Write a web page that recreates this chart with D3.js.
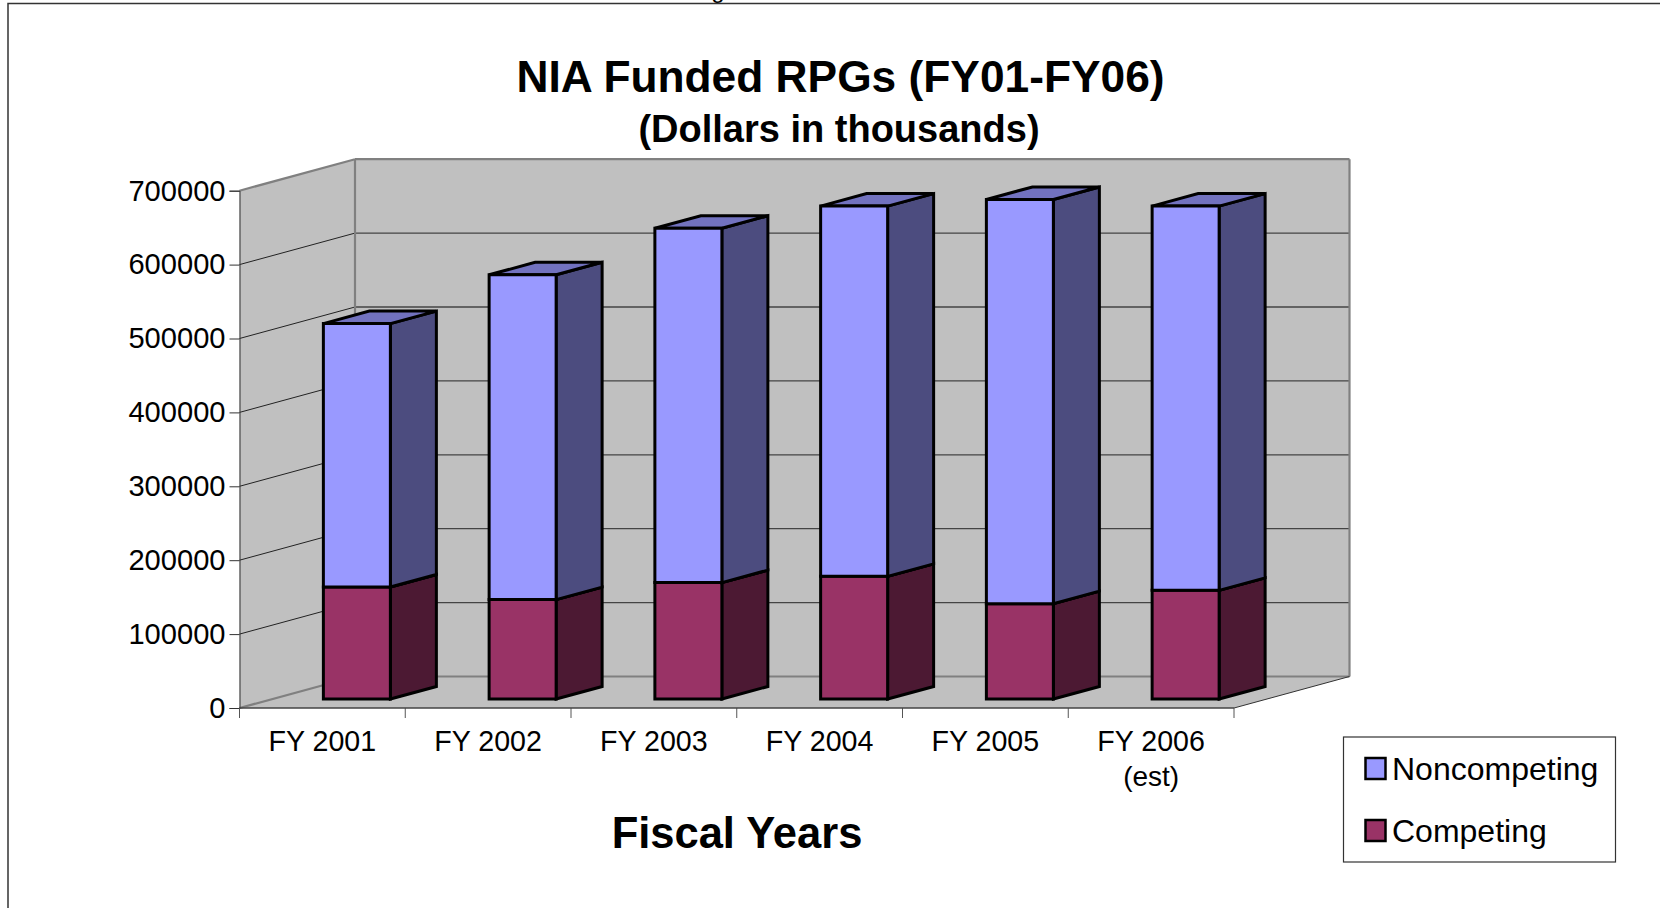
<!DOCTYPE html>
<html><head><meta charset="utf-8">
<script src="https://cdn.jsdelivr.net/npm/d3@7/dist/d3.min.js"></script>
<style>html,body{margin:0;padding:0;background:#fff;overflow:hidden}svg{display:block}text{font-family:"Liberation Sans",Arial,sans-serif;fill:#000}</style>
</head><body><svg id="c" width="1660" height="908"></svg>
<script>
const categories = ["FY 2001","FY 2002","FY 2003","FY 2004","FY 2005","FY 2006"];
const categorySub = ["","","","","","(est)"];
const competing = [151500,134500,157500,166000,129000,147000];
const noncompeting = [356500,439500,479500,501000,547000,520000];
const yTicks = [0,100000,200000,300000,400000,500000,600000,700000];
const seriesNames = ["Noncompeting","Competing"];

const svg = d3.select("#c");
const wallDx = 115.5, wallDy = -31.5;      // depth of the chart box
const barDx = 46, barDy = -12.5;           // depth of a bar
const barInsetDx = 34.5, barInsetDy = -9;  // bar offset from front edge
const x = d3.scaleBand().domain(categories).range([239.5,1234]);
const y = d3.scaleLinear().domain([0,700000]).range([708,190.7]);
const barW = 67;
const poly = (pts,fill,stroke,sw) => svg.append("path")
  .attr("d","M"+pts.map(p=>p.join(",")).join("L")+"Z").attr("fill",fill)
  .attr("stroke",stroke).attr("stroke-width",sw).attr("stroke-linejoin","miter");
const line = (x1,y1,x2,y2,stroke,sw) => svg.append("line").attr("x1",x1).attr("y1",y1).attr("x2",x2).attr("y2",y2).attr("stroke",stroke).attr("stroke-width",sw);

// clipped descender of the text above + page frame
svg.append("text").attr("x",718).attr("y",-2.5).attr("text-anchor","middle").attr("font-size",24).text("g");
svg.append("path").attr("d","M8,908V3.5H1660").attr("fill","none").attr("stroke","#333").attr("stroke-width",1.5);

// chart box
const [xl,xr] = x.range(), y0=y(0), yT=y(700000);
const G="#c0c0c0", W="#808080";
poly([[xl,y0],[xl+wallDx,y0+wallDy],[xr+wallDx,y0+wallDy],[xr,y0]],G,"none",0);
poly([[xl,y0],[xl,yT],[xl+wallDx,yT+wallDy],[xl+wallDx,y0+wallDy]],G,"none",0);
poly([[xl+wallDx,yT+wallDy],[xr+wallDx,yT+wallDy],[xr+wallDx,y0+wallDy],[xl+wallDx,y0+wallDy]],G,"none",0);
yTicks.slice(1,-1).forEach(v=>{
  line(xl,y(v),xl+wallDx,y(v)+wallDy,"#222",1);
  line(xl+wallDx,y(v)+wallDy,xr+wallDx,y(v)+wallDy,"#444",1.3);
});
line(xl,yT,xl+wallDx,yT+wallDy,W,2.2);
line(xl+wallDx,yT+wallDy,xr+wallDx,yT+wallDy,W,2.2);
line(xl+wallDx,yT+wallDy,xl+wallDx,y0+wallDy,W,2.2);
line(xr+wallDx,yT+wallDy,xr+wallDx,y0+wallDy,W,2.2);
line(xl,y0,xl+wallDx,y0+wallDy,W,2.2);
line(xl+wallDx,y0+wallDy,xr+wallDx,y0+wallDy,W,2.2);
line(xr,y0,xr+wallDx,y0+wallDy,"#333",1);

// axes
const yAxis = d3.axisLeft(y).tickValues(yTicks).tickFormat(d3.format("d")).tickSize(10).tickPadding(4);
const gy = svg.append("g").attr("transform",`translate(${xl},0)`).call(yAxis);
gy.selectAll("text").attr("font-size",29.1);
gy.select(".domain").attr("stroke","#333").attr("stroke-width",1);
gy.selectAll("line").attr("stroke","#333");
const xTickPos = categories.map(c=>x(c)).concat([xr]);
svg.append("g").selectAll("line").data(xTickPos).join("line")
  .attr("x1",d=>d).attr("x2",d=>d).attr("y1",y0).attr("y2",y0+10).attr("stroke","#555").attr("stroke-width",1);
line(xl,y0,xr,y0,"#444",1.4);
svg.append("g").selectAll("text").data(categories).join("text")
  .attr("x",d=>x(d)+x.bandwidth()/2).attr("y",751).attr("text-anchor","middle").attr("font-size",28.6).text(d=>d);
svg.append("g").selectAll("text").data(categorySub).join("text")
  .attr("x",(d,i)=>x(categories[i])+x.bandwidth()/2).attr("y",786).attr("text-anchor","middle").attr("font-size",28).text(d=>d);

// bars
const C = {non:["#9999ff","#7272bf","#4c4c7f"],com:["#993366","#732650","#4c1933"]};
function box(cx,v0,v1,col){
  const l=cx-barW/2+barInsetDx, r=l+barW;
  const yb=y(v0)+barInsetDy, yt=y(v1)+barInsetDy;
  poly([[r,yb],[r+barDx,yb+barDy],[r+barDx,yt+barDy],[r,yt]],col[2],"#000",3);
  poly([[l,yt],[r,yt],[r+barDx,yt+barDy],[l+barDx,yt+barDy]],col[1],"#000",3);
  poly([[l,yb],[r,yb],[r,yt],[l,yt]],col[0],"#000",3);
}
categories.forEach((c,i)=>{
  const cx=x(c)+x.bandwidth()/2;
  box(cx,0,competing[i],C.com);
  box(cx,competing[i],competing[i]+noncompeting[i],C.non);
});

// titles
svg.append("text").attr("x",840.5).attr("y",92).attr("text-anchor","middle").attr("font-size",44.3).attr("font-weight","bold").text("NIA Funded RPGs (FY01-FY06)");
svg.append("text").attr("x",839).attr("y",142).attr("text-anchor","middle").attr("font-size",38).attr("font-weight","bold").text("(Dollars in thousands)");
svg.append("text").attr("x",737).attr("y",848).attr("text-anchor","middle").attr("font-size",43.5).attr("font-weight","bold").text("Fiscal Years");

// legend
svg.append("rect").attr("x",1343.5).attr("y",737).attr("width",272).attr("height",125).attr("fill","#fff").attr("stroke","#333").attr("stroke-width",1.2);
seriesNames.forEach((n,i)=>{
  const ly=[769,831][i];
  svg.append("rect").attr("x",1365.5).attr("y",ly-11).attr("width",20).attr("height",21).attr("fill",i?C.com[0]:C.non[0]).attr("stroke","#000").attr("stroke-width",2.5);
  svg.append("text").attr("x",1392).attr("y",ly+11).attr("font-size",32).text(n);
});
</script></body></html>
